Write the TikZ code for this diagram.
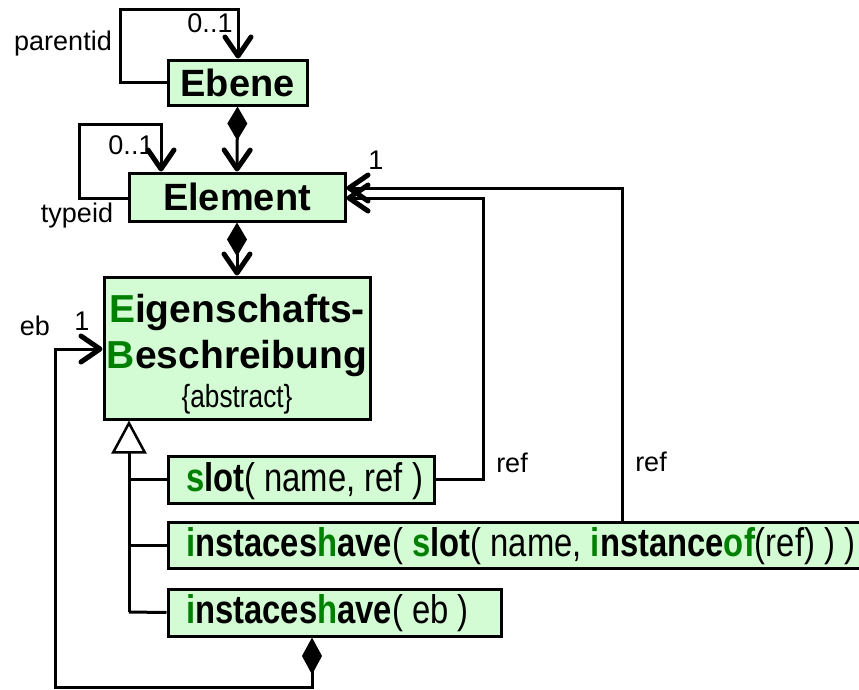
\documentclass[tikz,border=0pt]{standalone}
\usepackage{fontspec}
\setmainfont{Liberation Sans}
\newfontfamily\narrowfont[FakeStretch=0.82]{Liberation Sans}
\usetikzlibrary{arrows.meta}
\definecolor{boxfill}{RGB}{212,252,212}
\definecolor{kgreen}{RGB}{0,128,0}
\newcommand{\grn}[1]{{\color{kgreen}#1}}
\newcommand{\nrw}[1]{{\mdseries #1}}
\tikzset{
  cls/.style={draw=black, line width=3pt, fill=boxfill, inner sep=0pt,
    font=\fontsize{38}{40}\selectfont\bfseries},
  ttl/.style={inner sep=0pt, font=\fontsize{39}{40}\selectfont\bfseries},
  boxtext/.style={inner sep=0pt, anchor=west, font=\narrowfont\fontsize{40}{42}\selectfont\bfseries},
  lbl/.style={inner sep=0pt, font=\fontsize{27}{29}\selectfont},
  conn/.style={line width=3pt},
  assoc/.style={line width=3pt, line join=miter,
    arrows={-Straight Barb[length=19pt,width=26pt,line width=5pt,round]}},
  comp/.style={line width=3pt,
    arrows={Diamond[length=34pt,width=20pt]-Straight Barb[length=19pt,width=26pt,line width=5pt,round]}},
  compeb/.style={line width=3pt, line join=miter,
    arrows={Diamond[length=37pt,width=20pt]-Straight Barb[length=19pt,width=26pt,line width=5pt,round]}},
  gen/.style={line width=3pt,
    arrows={-Triangle[open,length=33pt,width=35pt,fill=white,line width=2.5pt]}},
}
\begin{document}
\begin{tikzpicture}[x=1pt,y=-1pt]
\useasboundingbox (0,0) rectangle (859,689);

% class boxes
\node[cls, minimum width=139pt, minimum height=45pt] (ebene) at (237.5,82.5) {Ebene};
\node[cls, minimum width=216pt, minimum height=48pt] (element) at (237,197) {Element};
\node[cls, minimum width=266pt, minimum height=142pt] (eb) at (237,348) {};
\node[ttl, anchor=base] (ebt1) at (237,322) {\grn{E}igenschafts-};
\node[ttl, anchor=base] (ebt2) at (237,368) {\grn{B}eschreibung};
\node[inner sep=0pt, anchor=base] (ebt3) at (237,407) {\narrowfont\fontsize{32}{32}\selectfont\{abstract\}};

\node[cls, minimum width=266pt, minimum height=47pt] (slot) at (301,479.5) {};
\node[cls, minimum width=712pt, minimum height=46pt] (ih1) at (524,545) {};
\node[cls, minimum width=333pt, minimum height=47pt] (ih2) at (334.5,612.5) {};

\node[boxtext] (slott) at (186,481)
  {\grn{s}lot\nrw{( name, ref )}};
\node[boxtext] (ih1t) at (186,546)
  {\grn{i}nstaces\grn{h}ave\nrw{( }\grn{s}lot\nrw{( name, }\grn{i}nstance\grn{of}\nrw{(ref) ) )}};
\node[boxtext] (ih2t) at (186,613)
  {\grn{i}nstaces\grn{h}ave\nrw{( eb )}};

% bend points
\coordinate (p1) at (120,9);
\coordinate (p2) at (238,9);
\coordinate (q1) at (79,124);
\coordinate (q2) at (161,124);
\coordinate (r1) at (483,198);
\coordinate (r2) at (622,188);
\coordinate (e1) at (312,687);
\coordinate (e2) at (55,687);
\coordinate (e3) at (55,349);
\coordinate (g0) at (129,612);

% self associations
\draw[assoc] (ebene.west) -| (p1) -- (p2) -- (ebene.north -| p2);
\draw[assoc] (element.west |- 0,198) -| (q1) -- (q2) -- (element.north -| q2);

% compositions
\draw[comp] (ebene.south) -- (element.north);
\draw[comp] (element.south) -- (eb.north);

% ref associations
\draw[assoc] (slot.east) -| (r1) -- (element.east |- r1);
\draw[assoc] (ih1.north -| r2) -- (r2) -- (element.east |- r2);

% eb association
\draw[compeb] (ih2.south -| e1) -- (e1) -- (e2) -- (e3) -- (eb.west |- e3);

% generalization
\draw[conn] (slot.west) -- (slot.west -| g0);
\draw[conn] (ih1.west) -- (ih1.west -| g0);
\draw[conn] (ih2.west) -- (g0);
\draw[gen] (g0) -- (eb.south -| g0);

% labels
\node[lbl] (lparent) at (63,44) {parentid};
\node[lbl] (lp01) at (210,23) {0..1};
\node[lbl] (le01) at (131,145) {0..1};
\node[lbl] (ltype) at (77,216) {typeid};
\node[lbl] (lone) at (376,160) {1};
\node[lbl] (leb) at (35,326) {eb};
\node[lbl] (lebone) at (82,321) {1};
\node[lbl] (lref1) at (512,463) {ref};
\node[lbl] (lref2) at (651,462) {ref};
\end{tikzpicture}
\end{document}
